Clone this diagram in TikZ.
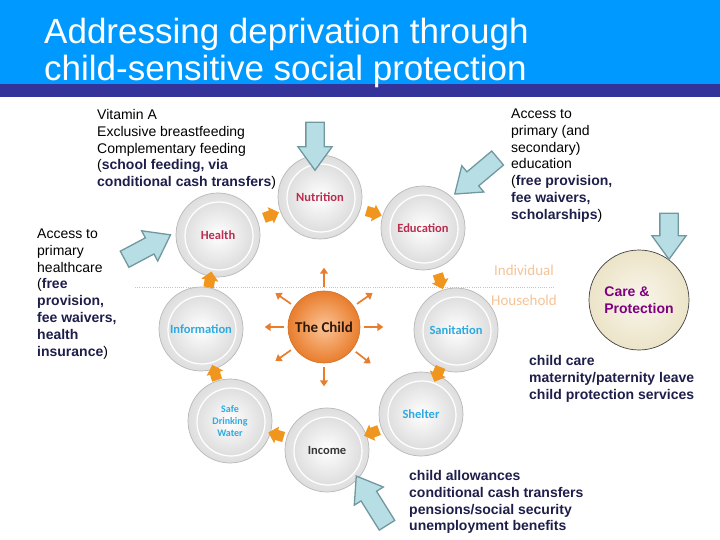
\documentclass[tikz,border=0pt]{standalone}
\usepackage{fontspec}
\setmainfont{Liberation Sans}
\newfontfamily\ballfont{Carlito}
\usetikzlibrary{calc,arrows.meta,positioning,shapes.arrows}
\definecolor{headerBlue}{RGB}{0,153,255}
\definecolor{headerBar}{RGB}{51,51,153}
\definecolor{inkNavy}{RGB}{30,30,75}
\definecolor{labelRed}{RGB}{185,45,80}
\definecolor{labelBlue}{RGB}{45,170,225}
\definecolor{labelGray}{RGB}{55,55,55}
\definecolor{ringOrange}{RGB}{240,150,30}
\definecolor{childOrange}{RGB}{232,125,45}
\definecolor{childLight}{RGB}{252,195,150}
\definecolor{levelOrange}{RGB}{245,195,150}
\definecolor{paleCyan}{RGB}{183,222,228}
\definecolor{cyanEdge}{RGB}{112,152,158}
\definecolor{careCream}{RGB}{236,228,200}
\definecolor{carePurple}{RGB}{128,0,128}
\newcommand\navybf[1]{{\bfseries\color{inkNavy}#1}}

\begin{document}
\begin{tikzpicture}[x=1pt,y=1pt,
  ball/.style={circle,minimum size=84pt,inner sep=0pt,draw=black!28,line width=0.7pt,
    inner color=white,outer color=black!13,align=center,
    path picture={\shade[inner color=white,outer color=black!16]
      ([xshift=1pt,yshift=-1pt]path picture bounding box.center) circle (33pt);
      \draw[white,line width=1.2pt] ([xshift=1pt,yshift=-1pt]path picture bounding box.center) circle (34pt);},
    font=\ballfont\bfseries\fontsize{12.5}{13.5}\selectfont},
  childball/.style={circle,minimum size=72pt,inner sep=0pt,draw=childOrange!90!black,line width=0.6pt,
    inner color=childLight,outer color=childOrange,text=black!80!childOrange,
    font=\ballfont\bfseries\fontsize{15}{16}\selectfont},
  spoke/.style={draw=childOrange,line width=1.7pt,-{Triangle[length=6pt,width=8pt]}},
  ringarrow/.style={single arrow,fill=ringOrange,inner xsep=0pt,inner ysep=5pt,
    single arrow head extend=3.5pt,minimum height=16pt,sloped,allow upside down},
  cue/.style={single arrow,draw=cyanEdge,fill=paleCyan,line width=1.3pt,
    inner xsep=0pt,inner ysep=8.5pt,single arrow head extend=8pt,single arrow tip angle=72,
    minimum height=48pt},
  note/.style={anchor=north west,inner sep=0pt,align=left,font=\fontsize{14}{16.9}\selectfont},
  navynote/.style={note,font=\bfseries\fontsize{14}{16.9}\selectfont,text=inkNavy},
  levellabel/.style={anchor=base,text=levelOrange,font=\ballfont\fontsize{15}{16}\selectfont}]
\useasboundingbox (0,0) rectangle (720,-540);

% header
\fill[headerBlue] (0,0) rectangle (720,-84);
\fill[headerBar] (0,-84) rectangle (720,-97);
\node[anchor=north west,inner sep=0pt,align=left,text=white,font=\fontsize{35}{37}\selectfont] (title) at (44,-17.1)
  {\strut Addressing deprivation through\\child-sensitive social protection};

% individual / household divide
\coordinate (sepL) at (135,-287);
\coordinate (sepR) at (555,-287);
\draw[levelOrange!85!childOrange,line width=1pt,dash pattern=on 1pt off 1.2pt] (sepL) -- (sepR);
\node[levellabel] (individual) at (524,-275) {Individual};
\node[levellabel] (household) at (524,-305) {Household};

% the ring
\node[ball,text=labelRed] (nutrition) at (320,-197) {Nutrition};
\node[ball,text=labelRed] (health) at (218,-235) {Health};
\node[ball,text=labelRed] (education) at (423,-228) {Education};
\node[ball,text=labelBlue] (information) at (201,-329) {Information};
\node[ball,text=labelBlue] (sanitation) at (456,-330) {Sanitation};
\node[ball,text=labelBlue,font=\ballfont\bfseries\fontsize{10}{12}\selectfont] (water) at (230,-421) {Safe\\Drinking\\Water};
\node[ball,text=labelBlue] (shelter) at (421,-414) {Shelter};
\node[ball,text=labelGray] (income) at (327,-450) {Income};

\path (information) -- node[ringarrow] (flow1) {} (health);
\path (health) -- node[ringarrow] (flow2) {} (nutrition);
\path (nutrition) -- node[ringarrow] (flow3) {} (education);
\path (education) -- node[ringarrow] (flow4) {} (sanitation);
\path (sanitation) -- node[ringarrow] (flow5) {} (shelter);
\path (shelter) -- node[ringarrow] (flow6) {} (income);
\path (income) -- node[ringarrow] (flow7) {} (water);
\path (water) -- node[ringarrow] (flow8) {} (information);

% the child
\node[childball] (child) at (324,-327) {The Child};
\foreach \a in {0,35,90,145,180,215,270,322}
  \draw[spoke] ([shift={(\a:4)}]child.\a) -- ++(\a:19);

% care and protection
\node[circle,minimum size=100pt,inner sep=0pt,draw=black!75,line width=0.7pt,
  inner color=careCream!35,outer color=careCream,text=carePurple,align=left,
  font=\bfseries\fontsize{14}{16.5}\selectfont] (care) at (639,-300) {Care \&\\Protection};

% interventions
\node[cue,rotate=-90] (nutritioncue) at (315,-140) {};
\node[cue,rotate=28,minimum height=52pt] (healthcue) at (142,-250) {};
\node[cue,rotate=220,minimum height=56pt] (educationcue) at (481,-172) {};
\node[cue,rotate=-90,minimum height=46pt] (carecue) at (669,-230) {};
\node[cue,rotate=122,minimum height=58pt] (incomecue) at (375,-506) {};

\node[note] (nutritiontext) at (97,-107.2) {\strut Vitamin A\\Exclusive breastfeeding\\Complementary feeding\\
  (\navybf{school feeding, via}\\\navybf{conditional cash transfers})};
\node[note] (healthtext) at (37,-226.2) {\strut Access to\\primary\\healthcare\\(\navybf{free}\\
  \navybf{provision,}\\\navybf{fee waivers,}\\\navybf{health}\\\navybf{insurance})};
\node[note] (educationtext) at (511,-106.2) {\strut Access to\\primary (and\\secondary)\\education\\
  (\navybf{free provision,}\\\navybf{fee waivers,}\\\navybf{scholarships})};
\node[navynote] (caretext) at (529,-353.2) {\strut child care\\maternity/paternity leave\\child protection services};
\node[navynote] (incometext) at (409,-468.2) {\strut child allowances\\conditional cash transfers\\pensions/social security\\unemployment benefits};
\end{tikzpicture}
\end{document}
